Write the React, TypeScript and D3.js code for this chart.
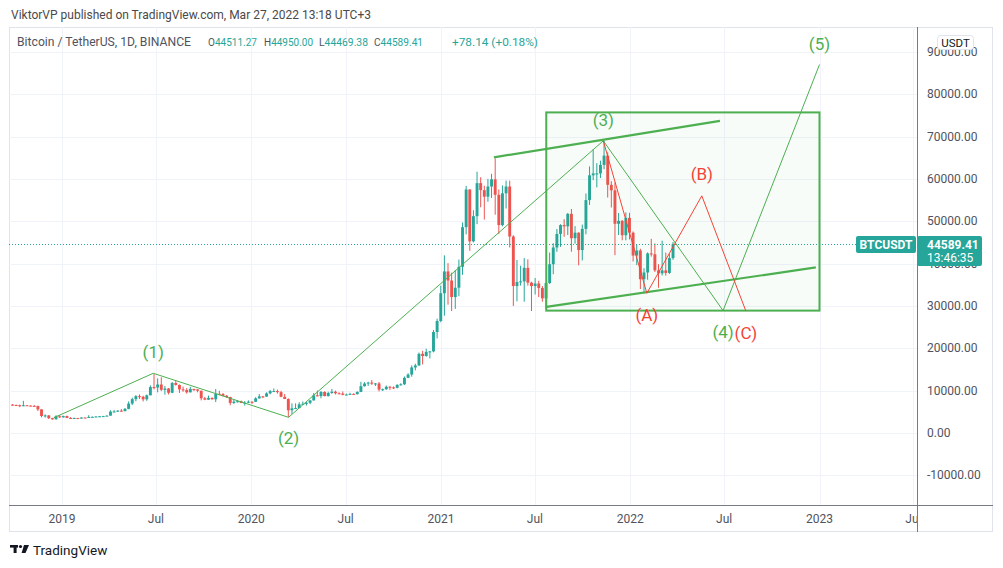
import React from 'react';
import * as d3 from 'd3';

const W = 1003;
const H = 568;
const FONT = "Roboto, 'Liberation Sans', 'DejaVu Sans', sans-serif";

// ---- Weekly candles (weeks start on Monday), BTCUSDT ----
const firstWeekStart = '2018-09-24';
const firstOpen = 6700;

const closes = [
  // 2018
  6620, 6580, 6330, 6550, 6480, 6410, 6370, 5580, 4010, 4150, 3500, 3230, 3950, 3700, 4000,
  // 2019
  3550, 3530, 3530, 3410, 3650, 3600, 3800, 3820, 3900, 3950, 3980, 4100, 5050, 5070, 5270, 5150,
  5700, 6950, 8000, 8700, 8550, 7950, 8900, 10850, 10750, 11450, 10200, 10500, 9500, 11800, 11350,
  10300, 10150, 9600, 10400, 10300, 9980, 8200, 7870, 8300, 7950, 9250, 9200, 8800, 8500, 7100,
  7400, 7500, 7100, 7150, 7390, 7350,
  // 2020
  8180, 8650, 8600, 9350, 9900, 9900, 9650, 8550, 8030, 5360, 5830, 5880, 6770, 6900, 7120, 7700,
  8900, 8720, 9680, 8720, 9450, 9750, 9380, 9300, 9000, 9080, 9240, 9160, 9700, 11050, 11680, 11900,
  11650, 11700, 10250, 10330, 10920, 10770, 10670, 11370, 11500, 13030, 13800, 15480, 15950, 18700,
  18180, 19150, 19270, 23850, 26450, 33000,
  // 2021
  38150, 36000, 32100, 34300, 39250, 48600, 57500, 45250, 51200, 59000, 57350, 55800, 58200, 59900,
  56250, 49100, 56600, 58200, 46400, 34700, 35650, 35800, 39000, 35500, 34700, 35300, 34250, 31800,
  35400, 39850, 43800, 47000, 49100, 48800, 51750, 46000, 47300, 43200, 48200, 55000, 60850, 61300,
  61300, 63300, 65500, 58600, 57300, 49400, 50100, 46700, 50800, 47300,
  // 2022
  41900, 43100, 36300, 37900, 42400, 42200, 38400, 37700, 38400, 37800, 41300, 44589.41,
];

const highs = [
  // 2018
  6800, 6700, 6700, 7600, 6600, 6500, 6600, 6450, 5600, 4400, 4250, 3600, 4200, 4200, 4100,
  // 2019
  4100, 3750, 3650, 3560, 3700, 3720, 4200, 3900, 3950, 4000, 4050, 4150, 5350, 5450, 5400, 5650,
  5900, 7450, 8350, 8950, 9100, 8800, 9100, 11250, 13970, 12900, 13150, 11100, 10650, 12050, 12300,
  11450, 10950, 10600, 10900, 10450, 10350, 10000, 8500, 8850, 8400, 10400, 9950, 9450, 8950, 8550,
  7850, 7750, 7650, 7550, 7700, 7500,
  // 2020
  8450, 9200, 8750, 9600, 10170, 10500, 10250, 9950, 9200, 8180, 7000, 7000, 7250, 7450, 7300, 7750,
  9450, 10050, 9950, 9850, 9750, 10400, 10000, 9600, 9800, 9300, 9500, 9350, 9850, 12100, 12000, 12100,
  12500, 11800, 12050, 10500, 11200, 11050, 11000, 11500, 11750, 13350, 14100, 15950, 16350, 19000,
  19400, 19900, 19400, 24300, 27000, 34800,
  // 2021
  41950, 40100, 37850, 38500, 40950, 49700, 58350, 57550, 52600, 61700, 60400, 58400, 60000, 61200,
  64850, 57500, 58450, 59600, 59600, 46700, 40850, 39500, 41300, 41000, 35700, 36600, 35950, 34700,
  35400, 42600, 44800, 48150, 49300, 50500, 51950, 52900, 48850, 47400, 49200, 56550, 62950, 67000,
  63700, 64300, 69000, 66300, 59450, 59200, 51950, 50300, 52100, 52000,
  // 2022
  47600, 44450, 43500, 38900, 42650, 45850, 44750, 39850, 45400, 42600, 42300, 45100,
];

const lows = [
  // 2018
  6450, 6450, 6100, 6330, 6380, 6250, 6300, 5200, 3700, 3650, 3300, 3150, 3200, 3550, 3650,
  // 2019
  3500, 3450, 3450, 3350, 3370, 3560, 3600, 3680, 3730, 3800, 3900, 3950, 4100, 4900, 5000, 5050,
  5150, 5600, 6600, 7500, 8050, 7450, 7600, 8900, 10300, 9600, 9900, 9050, 9100, 9400, 11200,
  9450, 9750, 9300, 9600, 9900, 9600, 7700, 7750, 7800, 7900, 7300, 8950, 8650, 8350, 6550,
  6850, 7200, 7050, 6450, 7050, 6850,
  // 2020
  7340, 8100, 8250, 8550, 9150, 9700, 9300, 8450, 8000, 3780, 4450, 5700, 5850, 6750, 6470, 6800,
  7650, 8650, 8200, 8650, 8600, 9250, 9100, 9150, 8900, 8950, 9050, 9000, 9100, 9650, 10950, 11100,
  11350, 11100, 9800, 9900, 10200, 10150, 10370, 10550, 11200, 11350, 12950, 13300, 14800, 15850,
  16200, 18000, 17600, 19050, 22350, 26150,
  // 2021
  27700, 30300, 28800, 29300, 32300, 37350, 46900, 43000, 45000, 49300, 53300, 50400, 54600, 55500,
  51550, 47000, 48800, 53000, 43800, 30000, 31100, 34800, 31000, 34800, 28800, 32700, 32100, 31000,
  29300, 35200, 37500, 42800, 43950, 46350, 46750, 42800, 44700, 39600, 40750, 46900, 53850, 59700,
  58000, 60200, 62300, 55600, 53250, 42000, 46750, 45500, 45500, 45700,
  // 2022
  40500, 39650, 34000, 32900, 36200, 41650, 38000, 34300, 37200, 37150, 37550, 40900,
];

// ---- Axes ----
const priceTicks = [90000, 80000, 70000, 60000, 50000, 40000, 30000, 20000, 10000, 0, -10000];
const timeTickDates = [
  '2019-01-01', '2019-07-01', '2020-01-01', '2020-07-01', '2021-01-01',
  '2021-07-01', '2022-01-01', '2022-07-01', '2023-01-01', '2023-07-01',
];
const timeTickLabels = ['2019', 'Jul', '2020', 'Jul', '2021', 'Jul', '2022', 'Jul', '2023', 'Jul'];

// ---- Header / legend ----
const titleText = 'ViktorVP published on TradingView.com, Mar 27, 2022 13:18 UTC+3';
const symbolText = 'Bitcoin / TetherUS, 1D, BINANCE';
const legendKeys = ['O', 'H', 'L', 'C'];
const legendValues = ['44511.27', '44950.00', '44469.38', '44589.41'];
const legendChange = '+78.14 (+0.18%)';
const lastPriceTime = '13:46:35';
const symbolTag = 'BTCUSDT';
const currencyTag = 'USDT';

// ---- Drawings (Elliott wave count) ----
const waveDates = ['2018-12-16', '2019-06-26', '2020-03-13', '2021-11-10', '2022-06-29', '2023-01-01'];
const wavePrices = [3600, 14100, 3700, 69000, 28900, 87000];
const waveLabels = ['(1)', '(2)', '(3)', '(4)', '(5)'];

const corrDates = ['2021-11-10', '2022-02-02', '2022-05-19', '2022-08-12'];
const corrPrices = [69000, 33000, 56000, 28800];
const corrLabels = ['(A)', '(B)', '(C)'];

const upperChannelDates = ['2021-04-13', '2022-06-23'];
const upperChannelPrices = [65100, 73700];
const lowerChannelDates = ['2021-07-23', '2022-12-25'];
const lowerChannelPrices = [29800, 39100];
const boxDates = ['2021-07-23', '2023-01-01'];
const boxPrices = [75700, 28900];

// ---- Styles ----
const UP = '#26a69a';
const DOWN = '#ef5350';
const GREEN = '#4caf50';
const RED = '#f44336';
const GRID = '#f0f3fa';
const AXIS_TEXT = '#50535e';
const BORDER = '#e0e3eb';

const plot = { left: 9, right: 917, top: 27, bottom: 505.7 };

export default function App() {
  const x = d3
    .scaleUtc()
    .domain([new Date('2019-01-01T00:00:00Z'), new Date('2023-01-01T00:00:00Z')])
    .range([62, 819.5]);
  const y = d3.scaleLinear().domain([0, 80000]).range([433, 94.2]);

  const start = new Date(firstWeekStart + 'T00:00:00Z');
  const candles = closes.map((c, i) => {
    const o = i === 0 ? firstOpen : closes[i - 1];
    const wk = d3.utcMonday.offset(start, i);
    const mid = d3.utcHour.offset(wk, 84);
    return {
      t: mid,
      o,
      c,
      h: Math.max(highs[i], o, c),
      l: Math.min(lows[i], o, c),
    };
  });
  const weekPx = x(d3.utcDay.offset(start, 7)) - x(start);
  const bodyW = weekPx * 0.8;

  const pt = (d: string, p: number): [number, number] => [x(new Date(d + 'T00:00:00Z')), y(p)];
  const line = d3.line<[number, number]>();

  const wavePts = waveDates.map((d, i) => pt(d, wavePrices[i]));
  const corrPts = corrDates.map((d, i) => pt(d, corrPrices[i]));
  const upPts = upperChannelDates.map((d, i) => pt(d, upperChannelPrices[i]));
  const loPts = lowerChannelDates.map((d, i) => pt(d, lowerChannelPrices[i]));
  const boxA = pt(boxDates[0], boxPrices[0]);
  const boxB = pt(boxDates[1], boxPrices[1]);

  const lastClose = closes[closes.length - 1];
  const yLast = y(lastClose);

  const legendX = [208, 264, 319, 374];
  const legendW = 49;

  return (
    <svg
      width={W}
      height={H}
      style={{ position: 'absolute', left: 0, top: 0, background: '#fff' }}
      fontFamily={FONT}
    >
      <defs>
        <clipPath id="plotClip">
          <rect x={plot.left} y={plot.top} width={plot.right - plot.left} height={plot.bottom - plot.top} />
        </clipPath>
        <clipPath id="timeClip">
          <rect x={plot.left} y={plot.bottom} width={plot.right - plot.left} height={30} />
        </clipPath>
      </defs>
      <rect x={0} y={0} width={W} height={H} fill="#fff" />

      {/* title */}
      <text x={11} y={19} fontSize={13} fill="#4a4a4a" textLength={360} lengthAdjust="spacingAndGlyphs">
        {titleText}
      </text>

      {/* frame */}
      <rect x={9.5} y={27.5} width={983} height={504} fill="none" stroke={BORDER} strokeWidth={1} />

      {/* grid */}
      <g clipPath="url(#plotClip)">
        {priceTicks.map((p) => (
          <line key={'hg' + p} x1={plot.left} x2={plot.right} y1={Math.round(y(p)) + 0.5} y2={Math.round(y(p)) + 0.5} stroke={GRID} />
        ))}
        {timeTickDates.map((d) => {
          const xx = Math.round(x(new Date(d + 'T00:00:00Z'))) + 0.5;
          return <line key={'vg' + d} x1={xx} x2={xx} y1={plot.top} y2={plot.bottom} stroke={GRID} />;
        })}
      </g>

      {/* legend */}
      <text x={17} y={46} fontSize={12} fill="#50535e" textLength={174} lengthAdjust="spacingAndGlyphs">
        {symbolText}
      </text>
      {legendKeys.map((k, i) => (
        <text key={k} x={legendX[i]} y={46} fontSize={11} textLength={legendW} lengthAdjust="spacingAndGlyphs">
          <tspan fill="#50535e">{k}</tspan>
          <tspan fill={UP}>{legendValues[i]}</tspan>
        </text>
      ))}
      <text x={452} y={46} fontSize={11} fill={UP} textLength={86} lengthAdjust="spacingAndGlyphs">
        {legendChange}
      </text>

      {/* candles */}
      <g clipPath="url(#plotClip)">
        {candles.map((k, i) => {
          const cx = x(k.t);
          const col = k.c >= k.o ? UP : DOWN;
          const top = y(Math.max(k.o, k.c));
          const bot = y(Math.min(k.o, k.c));
          return (
            <g key={i}>
              <line x1={cx} x2={cx} y1={y(k.h)} y2={y(k.l)} stroke={col} strokeWidth={1} />
              <rect x={cx - bodyW / 2} y={top} width={bodyW} height={Math.max(1, bot - top)} fill={col} />
            </g>
          );
        })}
      </g>

      {/* last price dotted line */}
      <line
        x1={plot.left}
        x2={856}
        y1={Math.round(yLast) + 0.5}
        y2={Math.round(yLast) + 0.5}
        stroke={UP}
        strokeDasharray="1 2"
        strokeWidth={1}
      />

      {/* drawings */}
      <g clipPath="url(#plotClip)">
        <rect
          x={boxA[0]}
          y={boxA[1]}
          width={boxB[0] - boxA[0]}
          height={boxB[1] - boxA[1]}
          fill={GREEN}
          fillOpacity={0.04}
          stroke={GREEN}
          strokeWidth={2}
        />
        <path d={line(upPts) || ''} stroke={GREEN} strokeWidth={2.2} fill="none" />
        <path d={line(loPts) || ''} stroke={GREEN} strokeWidth={2.2} fill="none" />
        <path d={line(wavePts) || ''} stroke={GREEN} strokeWidth={1} fill="none" />
        <path d={line(corrPts) || ''} stroke={RED} strokeWidth={1} fill="none" />
        {waveLabels.map((l, i) => {
          const p = wavePts[i + 1];
          const above = i % 2 === 0;
          return (
            <text key={l} x={p[0]} y={p[1] + (above ? -21 : 21)} fontSize={17} fill={GREEN} textAnchor="middle" dominantBaseline="central">
              {l}
            </text>
          );
        })}
        {corrLabels.map((l, i) => {
          const p = corrPts[i + 1];
          const above = i % 2 === 1;
          return (
            <text key={l} x={p[0]} y={p[1] + (above ? -22 : 22)} fontSize={17} fill={RED} textAnchor="middle" dominantBaseline="central">
              {l}
            </text>
          );
        })}
      </g>

      {/* axes lines */}
      <line x1={plot.right + 0.5} x2={plot.right + 0.5} y1={27} y2={532} stroke="#787b86" />
      <line x1={9} x2={993} y1={505.5} y2={505.5} stroke="#787b86" />

      {/* price axis labels */}
      {priceTicks.map((p) => (
        <text key={'pt' + p} x={927} y={y(p)} fontSize={12} fill={AXIS_TEXT} dominantBaseline="central">
          {p.toFixed(2)}
        </text>
      ))}

      {/* time axis labels */}
      <g clipPath="url(#timeClip)">
        {timeTickDates.map((d, i) => (
          <text
            key={'tt' + d}
            x={x(new Date(d + 'T00:00:00Z'))}
            y={519}
            fontSize={12}
            fill={AXIS_TEXT}
            textAnchor="middle"
            dominantBaseline="central"
          >
            {timeTickLabels[i]}
          </text>
        ))}
      </g>

      {/* USDT tag */}
      <rect x={937.5} y={35.5} width={36} height={14} rx={3} fill="#fff" stroke={BORDER} />
      <text x={955.5} y={43} fontSize={11.5} fill="#131722" textAnchor="middle" dominantBaseline="central">
        {currencyTag}
      </text>

      {/* symbol tag */}
      <rect x={856} y={236} width={60} height={17} rx={2} fill={UP} />
      <text x={886} y={244.5} fontSize={12} fontWeight="bold" fill="#fff" textAnchor="middle" dominantBaseline="central">
        {symbolTag}
      </text>
      {/* last price tag */}
      <rect x={917} y={236} width={65} height={30} rx={2} fill={UP} />
      <text x={927} y={244.5} fontSize={12} fontWeight="bold" fill="#fff" dominantBaseline="central">
        {lastClose.toFixed(2)}
      </text>
      <text x={927} y={258} fontSize={12} fill="#fff" dominantBaseline="central">
        {lastPriceTime}
      </text>

      {/* TradingView logo */}
      <g fill="#131722">
        <rect x={10} y={545} width={8} height={2.6} />
        <rect x={13.6} y={545} width={3} height={8} />
        <circle cx={20.5} cy={546.5} r={1.6} />
        <path d="M24 545 L29 545 L25.5 553 L21.6 553 Z" />
      </g>
      <text x={33} y={550} fontSize={13.5} fill="#131722" dominantBaseline="central">
        TradingView
      </text>
    </svg>
  );
}
